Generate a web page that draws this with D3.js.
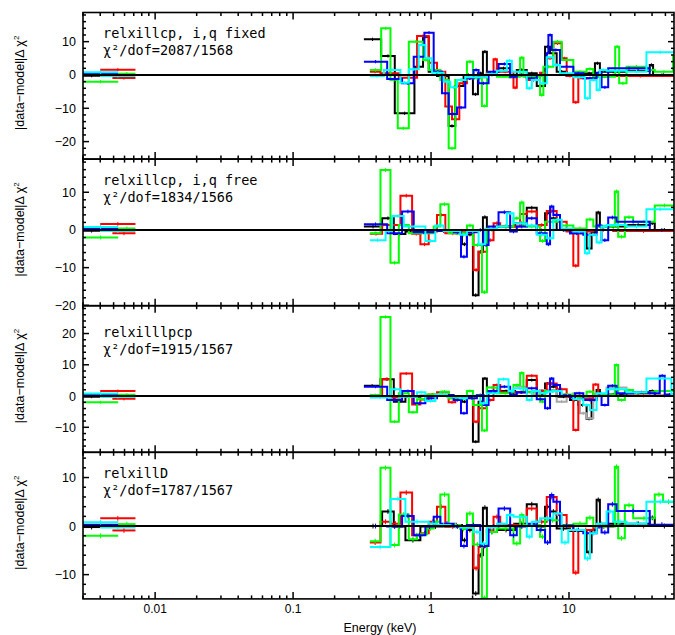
<!DOCTYPE html>
<html><head><meta charset="utf-8">
<script src="https://cdn.jsdelivr.net/npm/d3@7"></script>
<style>body{margin:0;background:#fff}svg{display:block}</style>
</head><body><svg id="c" width="675" height="635"></svg>
<script>
// ---------------- DATA ----------------
const xDomain = [0.003, 57.7];
const stepEnd = 57.7;
const xMajorTicks = [0.01, 0.1, 1, 10];
const xTickLabels = ["0.01", "0.1", "1", "10"];
const panelTitles = ["relxillcp, i,q fixed", "relxillcp, i,q free", "relxilllpcp", "relxillD"];
const panelStats = ["χ²/dof=2087/1568", "χ²/dof=1834/1566", "χ²/dof=1915/1567", "χ²/dof=1787/1567"];
const yDomains = [[-25.25, 18.75], [-20.1, 18.8], [-18, 28.9], [-15, 15.2]];
const yTickValues = [[10, 0, -10, -20], [10, 0, -10, -20], [20, 10, 0, -10], [10, 0, -10]];

// optical/UV points: [E_lo, E_hi, residual]
const optBlack = [[0.003, 0.004, -0.2]];
const optRed = [[0.004, 0.0072, 1.6], [0.0049, 0.0072, -0.9]];
const optGreen = [[0.003, 0.0054, -2.0], [0.0054, 0.0072, 0.4]];
const optBlue = [[0.003, 0.0054, 0.3]];
const optCyan = [[0.003, 0.0054, 0.8], [0.004, 0.0072, -0.3]];

// X-ray residual steps: [E_start, residual]
const p1Black = [[0.326,10.7],[0.435,5.7],[0.546,-11.5],[0.758,2.5],[0.875,11.5],[0.962,1.0],[1.105,-0.3],[1.342,-15.3],[1.499,-3.3],[1.722,0],[2.012,-5.8],[2.187,0.5],[2.377,7.0],[2.540,0.5],[3.000,2.0],[3.746,-0.7],[4.184,1.5],[4.943,0.5],[5.838,-3.3],[6.707,8.5],[7.290,6.5],[8.143,1.0],[9.619,-0.3],[12.70,0.5],[15.42,3.5],[16.75,1.0],[26.12,1.3],[38.50,3.0],[40.70,0]];
const p1Red = [[0.360,1.0],[0.430,0.5],[0.584,-0.8],[0.792,11.7],[0.962,3.7],[1.105,1.0],[1.269,-9.5],[1.419,-13.3],[1.603,-2.5],[1.820,-1.0],[2.034,-0.7],[2.540,0.7],[2.838,4.7],[3.000,1.0],[3.959,-3.8],[4.184,0],[4.943,-1.5],[6.171,0.7],[6.896,5.0],[7.703,9.5],[8.851,5.0],[9.619,-0.3],[10.75,-8.2],[11.68,-1.0],[15.00,-0.5],[18.73,-0.3]];
const p1Green = [[0.360,1.5],[0.435,14.0],[0.508,-1.5],[0.574,-16.0],[0.690,10.0],[0.875,4.5],[0.962,1.5],[1.168,-1.5],[1.342,-22.0],[1.499,-1.5],[1.820,4.0],[2.012,-1.0],[2.338,-9.3],[2.540,0],[3.000,-0.5],[4.423,5.2],[4.676,-0.5],[6.171,-6.0],[6.523,2.5],[7.703,10.0],[8.851,4.5],[10.75,1.0],[13.42,1.8],[15.00,-0.5],[21.63,8.5],[23.11,-2.5],[26.12,2.5],[36.42,1.5],[41.86,1.0],[56.79,5.7]];
const p1Blue = [[0.326,4.0],[0.481,-1.2],[0.617,-2.5],[0.749,5.5],[0.895,12.7],[1.045,1.0],[1.201,-5.5],[1.342,-11.7],[1.542,-9.8],[1.771,-1.0],[2.034,1.5],[2.211,-2.5],[2.612,1.0],[3.085,3.3],[3.746,-0.5],[4.184,0],[4.943,-1.0],[5.838,0],[6.896,6.5],[7.090,12.0],[7.495,7.5],[8.608,2.5],[10.75,0.5],[12.70,-1.0],[15.85,0.7],[17.22,-3.7],[19.24,2.0],[38.50,0]];
const p1Cyan = [[0.360,-0.3],[0.455,1.5],[0.600,-2.3],[0.690,1.7],[0.814,9.0],[0.910,5.0],[1.017,0.7],[1.235,-2.0],[1.380,-3.7],[1.542,-1.5],[1.771,-0.7],[2.540,0.3],[3.000,1.3],[3.544,4.3],[3.851,1.0],[4.943,-4.0],[5.372,-1.5],[6.171,-2.5],[6.896,5.3],[7.703,3.0],[8.608,0.5],[10.75,-0.7],[13.05,-7.0],[14.19,-1.5],[15.85,-4.5],[16.75,1.5],[18.73,1.3],[26.12,1.0],[36.42,6.8]];

const p2Black = [[0.326,0.9],[0.442,3.1],[0.537,-1.1],[0.652,-0.4],[0.837,-0.3],[1.380,-0.7],[1.675,-3.8],[1.820,-1.2],[2.012,-17.3],[2.211,-5.8],[2.377,3.4],[2.540,0.4],[3.000,0.9],[4.070,1.8],[4.943,5.9],[5.838,0],[6.707,4.4],[7.290,3.1],[8.143,0],[10.17,-0.9],[13.42,-4.9],[14.58,-0.6],[15.85,4.6],[16.75,0.9],[26.12,1.3],[38.50,1.8],[41.86,0]];
const p2Red = [[0.360,-1.0],[0.442,1.3],[0.600,9.1],[0.729,-1.0],[0.837,-3.8],[0.962,-0.4],[1.105,4.0],[1.269,-0.9],[1.629,-0.6],[2.034,-10.6],[2.211,-5.8],[2.540,-2.7],[2.838,1.8],[3.171,0.9],[4.423,4.2],[4.943,4.9],[5.838,1.3],[6.896,5.0],[8.143,2.2],[9.619,-0.4],[10.75,-9.5],[11.68,-0.4],[15.00,0],[20.92,-0.3]];
const p2Green = [[0.360,-0.9],[0.430,15.9],[0.508,-8.7],[0.584,1.3],[0.690,-0.9],[1.045,0.9],[1.168,6.8],[1.342,-0.9],[1.820,1.2],[2.012,-4.0],[2.338,-16.5],[2.540,0],[3.000,0.9],[3.959,3.1],[4.423,7.3],[4.676,0.9],[6.171,-2.9],[6.707,2.2],[8.608,1.2],[10.75,0.4],[13.42,2.8],[15.00,0.9],[21.50,10.2],[22.73,-1.8],[25.40,3.4],[29.18,2.2],[41.86,6.5]];
const p2Blue = [[0.326,1.5],[0.481,-0.9],[0.617,4.9],[0.749,-0.6],[1.045,-0.3],[1.458,-0.6],[1.648,-7.1],[1.820,-0.6],[2.150,0],[2.403,-4.0],[2.612,0.9],[3.085,4.7],[3.746,-0.4],[4.184,0.9],[4.943,3.1],[5.838,-0.9],[6.896,-3.8],[7.290,6.2],[7.703,4.0],[8.608,0],[10.17,-0.9],[12.70,-1.3],[15.85,1.2],[17.22,-2.7],[19.24,3.3],[22.11,2.2],[38.50,0]];
const p2Cyan = [[0.360,-2.7],[0.468,-0.3],[0.522,3.7],[0.634,0.9],[0.910,-2.9],[1.075,1.2],[1.235,-0.3],[1.629,-1.3],[1.820,-0.3],[2.211,-3.8],[2.471,0.3],[3.000,0.9],[3.544,4.4],[3.959,1.8],[4.943,1.2],[5.838,-1.3],[6.896,-2.2],[7.703,2.7],[8.851,0.4],[10.75,-0.4],[13.05,-6.2],[14.03,-1.3],[15.85,-3.3],[17.22,0.9],[18.73,1.3],[26.12,0.9],[36.42,5.5]];

const p3Black = [[0.326,3.3],[0.430,5.4],[0.537,-1.8],[0.652,-0.2],[0.837,0.1],[1.380,-0.5],[1.675,-1.8],[1.820,-0.2],[2.012,-14.6],[2.211,-1.8],[2.377,5.6],[2.540,1.2],[3.000,1.6],[4.070,1.2],[4.943,5.1],[5.838,0.3],[6.707,4.0],[7.290,3.0],[8.143,-0.2],[10.17,-1.3],[11.68,-2.9],[13.42,-7.3],[14.58,-1.3],[15.85,1.9],[16.75,0.5],[26.12,0.9],[38.50,1.6],[41.86,0.1]];
const p3Grey = [[4.070,3.0],[4.943,1.2],[5.523,0.5],[6.171,1.9],[8.143,-1.8],[9.619,0],[10.75,0.9],[12.01,-5.5],[13.42,-7.1],[15.00,0.5],[18.73,2.7],[26.12,0.9],[32.5,0.9]];
const p3Red = [[0.360,0.1],[0.442,5.4],[0.508,-0.5],[0.600,7.2],[0.729,-2.7],[0.837,-1.1],[0.962,0.5],[1.105,1.2],[1.342,-2.0],[1.499,-0.7],[1.629,-0.2],[2.034,-8.2],[2.211,-3.9],[2.540,-1.3],[2.838,3.5],[3.171,1.2],[4.943,6.5],[5.838,1.6],[6.896,4.0],[8.143,2.2],[9.619,-0.2],[10.75,-10.9],[11.68,-0.7],[15.00,3.7],[16.29,0.3],[20.92,0.1]];
const p3Green = [[0.360,0.3],[0.430,25.3],[0.508,-8.2],[0.584,0.9],[0.690,-5.2],[0.792,-1.0],[0.936,0.5],[1.168,1.4],[1.342,-0.8],[1.820,1.6],[2.012,-2.9],[2.338,-11.0],[2.540,2.7],[3.000,0.9],[3.959,3.5],[4.423,7.4],[4.676,1.4],[6.171,-1.8],[6.707,1.6],[8.608,0.5],[10.75,-0.2],[13.42,1.4],[15.00,0.5],[21.50,9.9],[22.73,-1.3],[25.40,1.9],[29.18,1.2],[41.86,1.6]];
const p3Blue = [[0.326,3.0],[0.481,-1.3],[0.617,1.6],[0.749,-2.3],[0.910,-0.7],[1.105,0.3],[1.458,-1.3],[1.648,-5.5],[1.820,-0.7],[2.150,0.3],[2.403,-2.9],[2.612,1.6],[3.085,3.0],[3.746,0.5],[4.184,1.2],[4.943,2.5],[5.838,-1.0],[6.707,-3.9],[7.290,5.6],[7.703,3.5],[8.608,0.3],[10.17,-0.5],[11.05,0.9],[12.70,-1.3],[15.85,0.1],[17.22,-2.9],[19.24,3.3],[22.11,0.9],[29.18,1.2],[38.50,0.9],[45.48,6.5],[49.43,0.5]];
const p3Cyan = [[0.360,-0.5],[0.508,2.2],[0.600,-0.2],[0.792,1.2],[0.910,-1.6],[1.075,0.5],[1.305,-0.2],[1.629,-0.7],[1.820,0.1],[2.274,-2.3],[2.540,0.9],[3.085,5.4],[3.644,1.6],[3.959,2.4],[4.943,-1.3],[5.372,1.6],[6.171,0.9],[6.896,1.4],[7.703,1.6],[8.851,0.1],[10.75,-1.0],[12.70,-2.9],[14.19,-4.5],[15.85,0.9],[18.73,2.2],[26.12,1.2],[36.42,5.6],[55.24,0.5]];

const p4Black = [[0.326,0],[0.442,3.0],[0.537,-0.1],[0.652,-2.9],[0.837,-0.1],[1.380,0.2],[1.675,-2.9],[1.820,-0.8],[2.012,-13.9],[2.211,-6.0],[2.377,3.8],[2.540,-1.2],[3.000,-0.8],[4.070,0.5],[4.943,4.5],[5.838,-0.1],[6.707,4.0],[7.290,3.0],[8.143,-0.5],[10.17,-1.0],[13.42,-5.4],[14.58,-0.8],[15.85,5.4],[16.75,0.5],[26.12,0.5],[38.50,1.7],[41.86,0]];
const p4Red = [[0.360,-3.4],[0.430,0.9],[0.508,0.5],[0.600,6.9],[0.729,-1.9],[0.837,-1.5],[0.962,0.9],[1.105,4.0],[1.269,-0.1],[1.629,-0.3],[2.034,-8.7],[2.211,-4.3],[2.540,-0.8],[2.838,1.9],[3.171,0.2],[4.943,3.6],[5.838,0.9],[6.896,6.0],[8.143,2.3],[9.619,-0.1],[10.75,-9.6],[11.68,-0.8],[15.00,-0.1],[20.92,0]];
const p4Green = [[0.360,-3.1],[0.430,12.0],[0.508,-3.9],[0.584,2.4],[0.690,-2.7],[0.792,-1.7],[0.936,-0.5],[1.045,0.9],[1.168,6.5],[1.342,0.2],[1.629,-0.6],[1.820,2.6],[2.012,-3.8],[2.338,-14.8],[2.540,-1.2],[3.000,-0.5],[3.959,-3.6],[4.423,2.3],[4.676,0.2],[6.171,-2.2],[6.707,1.2],[8.608,0.2],[10.75,0.5],[13.42,1.7],[15.00,-0.1],[21.50,12.2],[22.73,-2.5],[25.40,4.3],[29.18,1.6],[41.86,6.5],[48.08,5.0]];
const p4Blue = [[0.326,0],[0.481,-0.1],[0.617,2.1],[0.749,-1.9],[0.910,-0.1],[1.045,1.9],[1.168,0.5],[1.458,-0.1],[1.648,-4.1],[1.820,0.2],[2.274,-4.1],[2.612,-0.1],[3.085,3.6],[3.746,-1.9],[4.184,-0.1],[4.943,0.5],[5.838,-0.8],[6.707,-3.4],[7.290,6.4],[7.703,5.0],[8.608,0.1],[10.75,-0.8],[12.70,-1.5],[15.85,-0.1],[17.22,-1.3],[19.24,4.5],[22.11,3.1],[38.50,0.3]];
const p4Cyan = [[0.360,-4.3],[0.508,5.6],[0.652,0.9],[0.962,0.5],[1.105,0.2],[1.380,0],[1.629,-0.3],[2.034,-1.2],[2.274,-3.6],[2.540,-0.3],[3.000,0.5],[3.544,2.3],[3.959,1.9],[4.943,-2.2],[5.372,0.9],[6.171,1.6],[7.703,2.6],[8.851,-3.4],[9.889,-0.8],[13.05,-6.7],[14.19,-1.5],[15.85,0.5],[18.73,3.0],[20.92,0.9],[26.12,0.5],[36.42,5.0]];

const seriesColors = { black: "#000000", grey: "#a8a8a8", red: "#ff0000", green: "#00ff00", blue: "#0000ff", cyan: "#00ffff" };
const opticalSets = [["black", optBlack], ["red", optRed], ["green", optGreen], ["blue", optBlue], ["cyan", optCyan]];
const panelSeries = [
  [["black", p1Black], ["red", p1Red], ["green", p1Green], ["blue", p1Blue], ["cyan", p1Cyan]],
  [["black", p2Black], ["red", p2Red], ["green", p2Green], ["blue", p2Blue], ["cyan", p2Cyan]],
  [["black", p3Black], ["grey", p3Grey], ["red", p3Red], ["green", p3Green], ["blue", p3Blue], ["cyan", p3Cyan]],
  [["black", p4Black], ["red", p4Red], ["green", p4Green], ["blue", p4Blue], ["cyan", p4Cyan]]
];

// ---------------- DRAW ----------------
const svg = d3.select("#c");
const L = 83, R = 674, T0 = 12.5, PH = 146.6;
const x = d3.scaleLog().domain(xDomain).range([L, R]);
const tickFont = "'Liberation Sans', Arial, Helvetica, sans-serif";
const monoFont = "'DejaVu Sans Mono', monospace";
const errHalf = 0.5;

const xMinor = [];
for (let k = -3; k <= 1; k++) for (let m = 2; m <= 9; m++) {
  const v = m * Math.pow(10, k);
  if (v >= xDomain[0] && v <= xDomain[1]) xMinor.push(v);
}

panelSeries.forEach((series, i) => {
  const y0 = T0 + i * PH, y1 = y0 + PH;
  const y = d3.scaleLinear().domain(yDomains[i]).range([y1, y0]);
  const g = svg.append("g");
  const cid = "clip" + i;
  svg.append("clipPath").attr("id", cid).append("rect")
    .attr("x", L).attr("y", y0).attr("width", R - L).attr("height", PH);
  const dg = g.append("g").attr("clip-path", `url(#${cid})`);

  opticalSets.forEach(([c, pts]) => {
    pts.forEach(p => {
      dg.append("line").attr("x1", x(p[0])).attr("x2", x(p[1]))
        .attr("y1", y(p[2])).attr("y2", y(p[2]))
        .attr("stroke", seriesColors[c]).attr("stroke-width", 2);
      const xc = x(Math.sqrt(p[0] * p[1]));
      dg.append("line").attr("x1", xc).attr("x2", xc)
        .attr("y1", y(p[2] - errHalf)).attr("y2", y(p[2] + errHalf))
        .attr("stroke", seriesColors[c]).attr("stroke-width", 1);
    });
  });

  const line = d3.line().x(d => x(d[0])).y(d => y(d[1])).curve(d3.curveStepAfter);
  series.forEach(([c, data]) => {
    const last = data[data.length - 1];
    const pts = c === "grey" ? data : data.concat([[stepEnd, last[1]]]);
    dg.append("path").attr("d", line(pts)).attr("fill", "none")
      .attr("stroke", seriesColors[c]).attr("stroke-width", 2);
    for (let j = 0; j < pts.length - 1; j++) {
      const xc = x(Math.sqrt(pts[j][0] * pts[j + 1][0]));
      dg.append("line").attr("x1", xc).attr("x2", xc)
        .attr("y1", y(pts[j][1] - errHalf)).attr("y2", y(pts[j][1] + errHalf))
        .attr("stroke", seriesColors[c]).attr("stroke-width", 1);
    }
  });

  g.append("line").attr("x1", L).attr("x2", R).attr("y1", y(0)).attr("y2", y(0))
    .attr("stroke", "#000").attr("stroke-width", 2);

  g.append("rect").attr("x", L).attr("y", y0).attr("width", R - L).attr("height", PH)
    .attr("fill", "none").attr("stroke", "#000").attr("stroke-width", 1.6);

  const tk = g.append("g").attr("stroke", "#000").attr("stroke-width", 1.5);
  xMajorTicks.forEach(v => {
    tk.append("line").attr("x1", x(v)).attr("x2", x(v)).attr("y1", y1).attr("y2", y1 - 7);
    tk.append("line").attr("x1", x(v)).attr("x2", x(v)).attr("y1", y0).attr("y2", y0 + 7);
  });
  xMinor.forEach(v => {
    tk.append("line").attr("x1", x(v)).attr("x2", x(v)).attr("y1", y1).attr("y2", y1 - 3.5);
    tk.append("line").attr("x1", x(v)).attr("x2", x(v)).attr("y1", y0).attr("y2", y0 + 3.5);
  });
  const d = yDomains[i];
  d3.range(Math.ceil(d[0] / 2) * 2, d[1] + 0.001, 2).forEach(v => {
    const len = v % 10 === 0 ? 6 : 3;
    tk.append("line").attr("x1", L).attr("x2", L + len).attr("y1", y(v)).attr("y2", y(v));
    tk.append("line").attr("x1", R).attr("x2", R - len).attr("y1", y(v)).attr("y2", y(v));
  });
  const fmt = d3.format("d");
  yTickValues[i].forEach(v => {
    g.append("text").attr("x", 76).attr("y", y(v)).attr("dy", "0.36em")
      .attr("text-anchor", "end").attr("font-family", tickFont).attr("font-size", 12.5)
      .text(fmt(v));
  });

  const yl = g.append("text")
    .attr("transform", `translate(24,${(y0 + y1) / 2 - 3}) rotate(-90)`)
    .attr("text-anchor", "middle").attr("font-family", tickFont).attr("font-size", 12.5);
  yl.append("tspan").text("|data\u2212model|\u0394 \u03c7");
  yl.append("tspan").attr("font-size", 8).attr("dy", -5).text("2");

  const textY = [38, 185, 337, 478][i];
  g.append("text").attr("x", 103).attr("y", textY).attr("font-family", monoFont)
    .attr("font-size", 13.5).text(panelTitles[i]);
  g.append("text").attr("x", 103).attr("y", textY + 17).attr("font-family", monoFont)
    .attr("font-size", 13.5).text(panelStats[i]);

  if (i === panelSeries.length - 1) {
    xMajorTicks.forEach((v, k) => {
      g.append("text").attr("x", x(v)).attr("y", y1 + 14).attr("text-anchor", "middle")
        .attr("font-family", tickFont).attr("font-size", 12).text(xTickLabels[k]);
    });
    g.append("text").attr("x", 380).attr("y", 632).attr("text-anchor", "middle")
      .attr("font-family", tickFont).attr("font-size", 12.5).text("Energy (keV)");
  }
});
</script></body></html>
